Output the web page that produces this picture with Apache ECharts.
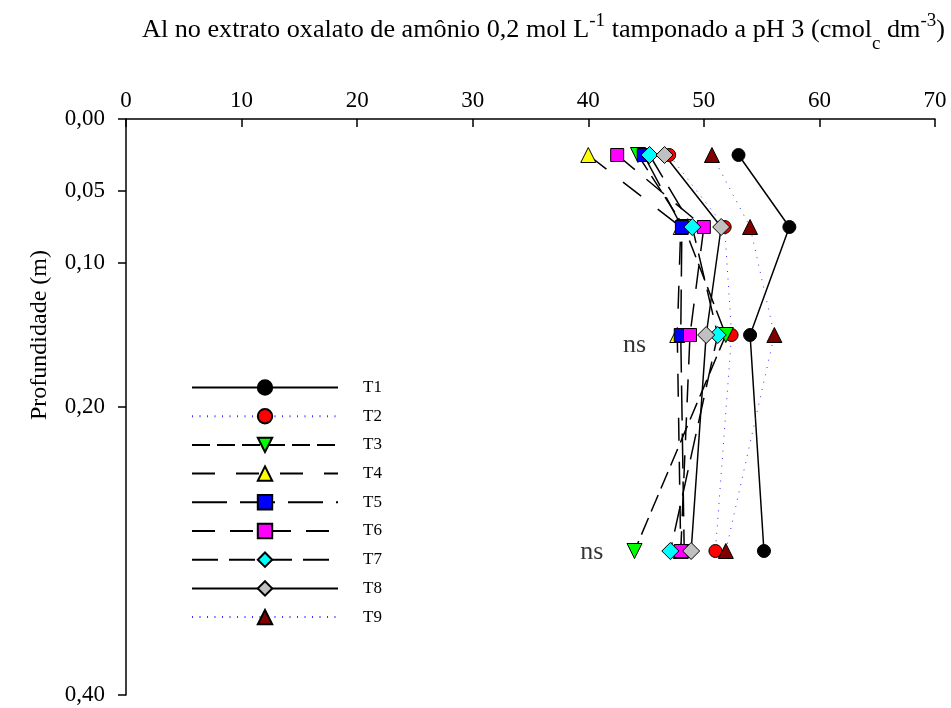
<!DOCTYPE html>
<html>
<head>
<meta charset="utf-8">
<script src="https://cdn.jsdelivr.net/npm/echarts@6/dist/echarts.min.js"></script>
<style>
html,body{margin:0;padding:0;background:#fff;}
#c{width:951px;height:708px;}
</style>
</head>
<body>
<div id="c"></div>
<script>
const depths = [0.025, 0.075, 0.15, 0.30];
const seriesNames = ['T1','T2','T3','T4','T5','T6','T7','T8','T9'];
const T1 = [53.0, 57.4, 54.0, 55.2];
const T2 = [47.0, 51.8, 52.4, 51.0];
const T3 = [44.3, 48.3, 51.9, 44.0];
const T4 = [40.0, 48.0, 47.7, 48.0];
const T5 = [44.8, 48.1, 48.0, 48.3];
const T6 = [42.5, 50.0, 48.8, 48.0];
const T7 = [45.3, 49.0, 51.2, 47.1];
const T8 = [46.6, 51.5, 50.2, 48.9];
const T9 = [50.7, 54.0, 56.1, 51.9];
const xTicks = [0, 10, 20, 30, 40, 50, 60, 70];
const yTicks = [0, 0.05, 0.10, 0.20, 0.40];
const nsLabels = [[44.0, 0.15], [40.3, 0.30]];

const values = [T1, T2, T3, T4, T5, T6, T7, T8, T9];
const FONT = '"Liberation Serif", "Times New Roman", serif';
const styles = [
  {symbol:'circle', size:13, color:'#000000', line:{color:'#000', width:1.5, type:'solid'}},
  {symbol:'circle', size:13, color:'#ff0000', line:{color:'#3333ff', width:1, type:[1,6.5]}},
  {symbol:'triangle', size:15, rotate:180, color:'#00ff00', line:{color:'#000', width:1.5, type:[18,7]}},
  {symbol:'triangle', size:15, color:'#ffff00', line:{color:'#000', width:1.5, type:[23,21]}},
  {symbol:'rect', size:13, color:'#0000ff', line:{color:'#000', width:1.5, type:[35,13]}},
  {symbol:'rect', size:13, color:'#ff00ff', line:{color:'#000', width:1.5, type:[23,15]}},
  {symbol:'diamond', size:17, color:'#00ffff', line:{color:'#000', width:1.5, type:[26,11]}},
  {symbol:'diamond', size:17, color:'#c0c0c0', line:{color:'#000', width:1.5, type:'solid'}},
  {symbol:'triangle', size:15, color:'#800000', line:{color:'#3333ff', width:1, type:[1,6.5]}}
];

const series = seriesNames.map((name, i) => ({
  name: name,
  type: 'line',
  data: values[i].map((v, k) => [v, depths[k]]),
  symbol: styles[i].symbol,
  symbolSize: styles[i].size,
  symbolRotate: styles[i].rotate || 0,
  showAllSymbol: true,
  itemStyle: {color: styles[i].color, borderColor: '#000', borderWidth: 1, opacity: 1},
  lineStyle: styles[i].line,
  emphasis: {disabled: true},
  animation: false
}));

const nsOffsets = [[0, 10], [0, 1]];
series.push({
  name: 'ns',
  type: 'scatter',
  symbolSize: 0,
  data: nsLabels.map((p, i) => ({value: p, label: {offset: nsOffsets[i]}})),
  label: {
    show: true,
    formatter: 'ns',
    position: 'inside',
    fontFamily: FONT,
    fontSize: 26,
    color: '#000',
    textBorderWidth: 0
  },
  silent: true,
  animation: false
});

const option = {
  backgroundColor: '#ffffff',
  animation: false,
  grid: {left: 126, right: 16, top: 119, bottom: 13},
  xAxis: {
    type: 'value',
    position: 'top',
    min: 0, max: 70, interval: 10,
    axisLine: {show: true, lineStyle: {color: '#000', width: 1.5}},
    axisTick: {show: true, inside: true, length: 8, lineStyle: {color: '#000', width: 1.5}},
    axisLabel: {color: '#000', fontFamily: FONT, fontSize: 23, margin: 7},
    splitLine: {show: false}
  },
  yAxis: {
    type: 'value',
    inverse: true,
    min: 0, max: 0.4, interval: 0.05,
    axisLine: {show: true, lineStyle: {color: '#000', width: 1.5}},
    axisTick: {show: true, inside: false, length: 8, customValues: yTicks, lineStyle: {color: '#000', width: 1.5}},
    axisLabel: {
      color: '#000', fontFamily: FONT, fontSize: 23, margin: 21,
      customValues: yTicks,
      formatter: v => v.toFixed(2).replace('.', ',')
    },
    splitLine: {show: false}
  },
  legend: {
    data: seriesNames,
    orient: 'vertical',
    left: 186,
    top: 374,
    itemWidth: 146,
    itemHeight: 18,
    itemGap: 11.7,
    textStyle: {fontFamily: FONT, fontSize: 17, color: '#000', padding: [0, 0, 0, 20]},
    selectedMode: false
  },
  graphic: [
    {
      type: 'text',
      left: 142,
      top: 12,
      style: {
        text: 'Al no extrato oxalato de amônio 0,2 mol L{sup|-1} tamponado a pH 3 (cmol{sub|c} dm{sup|-3})',
        fontFamily: FONT,
        fontSize: 26.2,
        lineHeight: 36,
        fill: '#000',
        rich: {
          sup: {fontFamily: FONT, fontSize: 19, verticalAlign: 'top', lineHeight: 36, fill: '#000'},
          sub: {fontFamily: FONT, fontSize: 19, verticalAlign: 'bottom', lineHeight: 36, padding:[0,0,-6,0], fill: '#000'}
        }
      }
    },
    {
      type: 'text',
      x: 40,
      y: 335,
      rotation: Math.PI / 2,
      style: {
        text: 'Profundidade (m)',
        fontFamily: FONT,
        fontSize: 24,
        fill: '#000',
        align: 'center',
        verticalAlign: 'middle'
      }
    }
  ],
  series: series
};

const chart = echarts.init(document.getElementById('c'), null, {renderer: 'canvas'});
chart.setOption(option);
</script>
</body>
</html>
